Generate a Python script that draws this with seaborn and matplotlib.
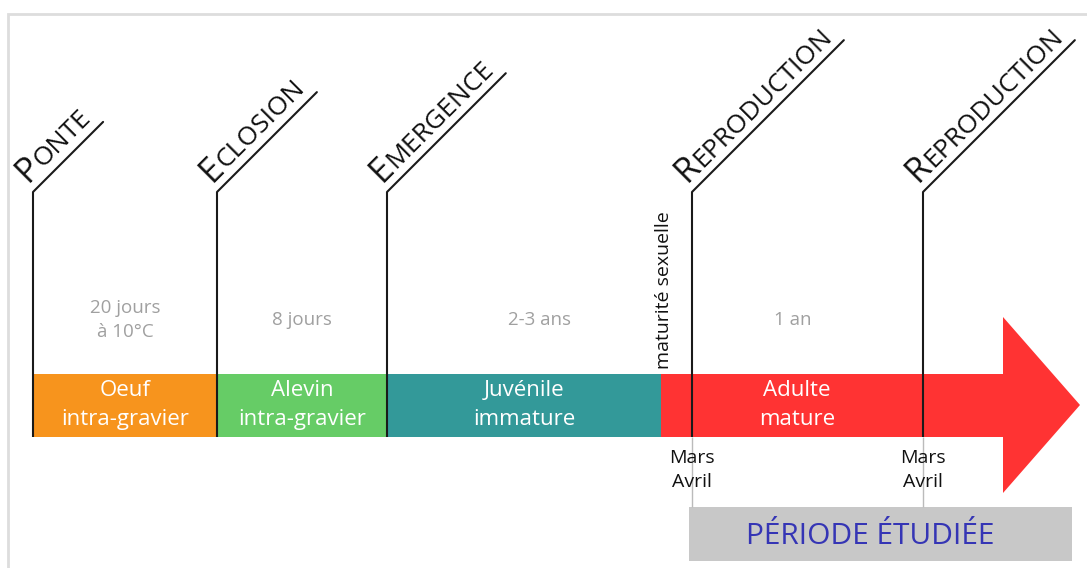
import numpy as np
import matplotlib.pyplot as plt
import seaborn as sns

sns.set_theme(style="white")
plt.rcParams['font.family'] = ['Open Sans', 'DejaVu Sans']

# timeline positions are in picture units (0..1087 wide, 0..568 high, y down)
events = ["Ponte", "Eclosion", "Emergence", "Reproduction", "Reproduction"]
event_x = [33, 217, 387, 692, 923]

stages = ["Oeuf\nintra-gravier", "Alevin\nintra-gravier", "Juvénile\nimmature", "Adulte\nmature"]
stage_start = [33, 217, 387, 661]
stage_end = [217, 387, 661, 1003]
stage_colors = ["#F7941D", "#66CC66", "#339999", "#FF3333"]

durations = ["20 jours\nà 10°C", "8 jours", "2-3 ans", "1 an"]
duration_x = [125, 302, 540, 793]

maturity_x = 661
season_label = "Mars\nAvril"
study_start, study_end = 689, 1072
study_label = "PÉRIODE ÉTUDIÉE"

bar_y, bar_h = 405, 63
head_len, head_half = 77, 88
line_top = 192

fig = plt.figure(figsize=(10.87, 5.68), dpi=100)
ax = fig.add_axes([0, 0, 1, 1])
ax.set_xlim(0, 1087)
ax.set_ylim(568, 0)
ax.axis('off')

# light frame
ax.plot([8, 8, 1087], [568, 14, 14], color="#DDDDDD", lw=2, solid_joinstyle='miter')

# stage bars + arrow head
widths = np.array(stage_end) - np.array(stage_start)
ax.barh([bar_y] * len(stages), widths, left=stage_start, height=bar_h,
        color=stage_colors, linewidth=0)
tip = stage_end[-1]
ax.fill([tip, tip + head_len, tip], [bar_y - head_half, bar_y, bar_y + head_half],
        color=stage_colors[-1], lw=0)

for s, a, b in zip(stages, stage_start, stage_end):
    cx = (a + b) / 2 if b != stage_end[-1] else 797
    ax.text(cx, bar_y, s, color="white", fontsize=16, ha="center", va="center",
            linespacing=1.5)

for d, x in zip(durations, duration_x):
    ax.text(x, 320, d, color="#A0A0A0", fontsize=13.5, ha="center", va="center",
            linespacing=1.45)

# study period box
ax.barh(534, study_end - study_start, left=study_start, height=54, color="#C8C8C8", linewidth=0)
ax.text((study_start + study_end) / 2 - 10, 536, study_label, color="#3535B5",
        fontsize=21.5, ha="center", va="center")

# reproduction guide lines down to the box
repro_x = [x for e, x in zip(events, event_x) if e == "Reproduction"]
ax.vlines(repro_x, bar_y + bar_h / 2, 507, color="#BBBBBB", lw=1)
for x in repro_x:
    ax.text(x, 470, season_label, color="#111111", fontsize=14, ha="center", va="center",
            linespacing=1.4)

ax.text(maturity_x + 3, 369, "maturité sexuelle", rotation=90, color="#111111",
        fontsize=14, ha="center", va="bottom")

# event lines with slanted small-caps titles
ax.vlines(event_x, line_top, bar_y + bar_h / 2, color="#1A1A1A", lw=1.5)
renderer = fig.canvas.get_renderer()
c45 = np.cos(np.pi / 4)
big, small = 25, 19
for e, x in zip(events, event_x):
    bx, by = x - 5, line_top - 9
    ax.text(bx, by, e[0].upper(), fontsize=big, rotation=45, rotation_mode='anchor',
            ha='left', va='baseline', color="#111111")
    w1 = ax.text(0, 0, e[0].upper(), fontsize=big).get_window_extent(renderer).width
    ax.texts[-1].remove()
    rx, ry = bx + w1 * c45, by - w1 * c45
    ax.text(rx, ry, e[1:].upper(), fontsize=small, rotation=45, rotation_mode='anchor',
            ha='left', va='baseline', color="#111111")
    w2 = ax.text(0, 0, e[1:].upper(), fontsize=small).get_window_extent(renderer).width
    ax.texts[-1].remove()
    d = (w1 + w2) * c45 + 6
    ax.plot([x, x + d], [line_top, line_top - d], color="#1A1A1A", lw=1.5)

fig.savefig("out.png", dpi=100)
